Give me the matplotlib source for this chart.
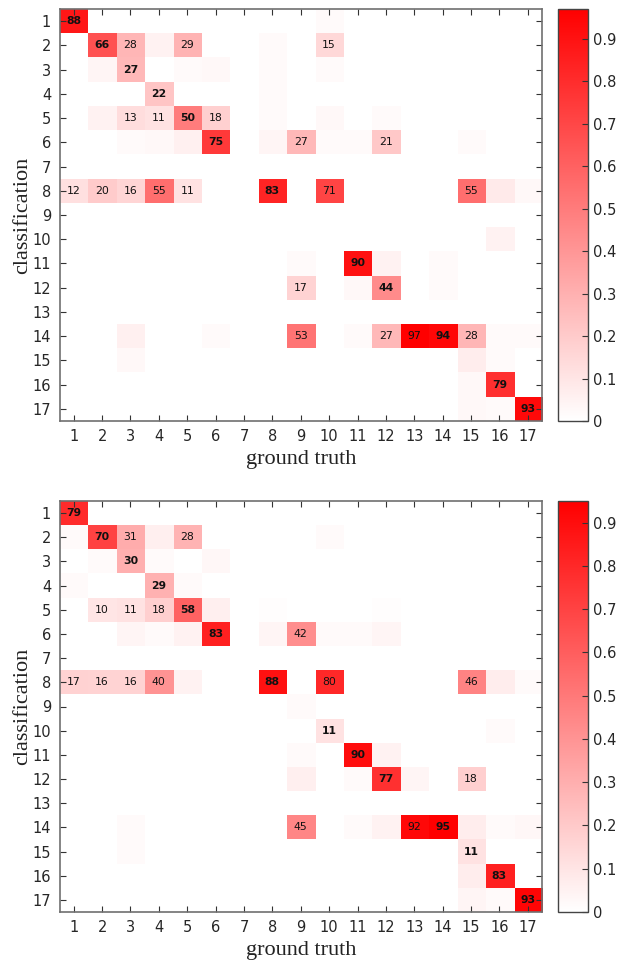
import numpy as np
import matplotlib
matplotlib.use("Agg")
import matplotlib.pyplot as plt
from matplotlib.colors import LinearSegmentedColormap

labels = [str(i) for i in range(1, 18)]
xlabel_text = "ground truth"
ylabel_text = "classification"

# values in percent; rows = classification, columns = ground truth
top_matrix = [
    [88, 0, 0, 0, 0, 0, 0, 0, 0, 2, 0, 0, 0, 0, 0, 0, 0],
    [0, 66, 28, 5, 29, 0, 0, 2, 0, 15, 0, 0, 0, 0, 0, 0, 0],
    [0, 4, 27, 0, 2, 3, 0, 2, 0, 2, 0, 0, 0, 0, 0, 0, 0],
    [0, 0, 0, 22, 0, 0, 0, 2, 0, 0, 0, 0, 0, 0, 0, 0, 0],
    [0, 5, 13, 11, 50, 18, 0, 2, 0, 3, 0, 2, 0, 0, 0, 0, 0],
    [0, 0, 2, 3, 6, 75, 0, 4, 27, 2, 2, 21, 0, 0, 2, 0, 0],
    [0, 0, 0, 0, 0, 0, 0, 0, 0, 0, 0, 0, 0, 0, 0, 0, 0],
    [12, 20, 16, 55, 11, 0, 0, 83, 0, 71, 0, 0, 0, 0, 55, 8, 3],
    [0, 0, 0, 0, 0, 0, 0, 0, 0, 0, 0, 0, 0, 0, 0, 0, 0],
    [0, 0, 0, 0, 0, 0, 0, 0, 0, 0, 0, 0, 0, 0, 0, 5, 0],
    [0, 0, 0, 0, 0, 0, 0, 0, 2, 0, 90, 5, 0, 2, 0, 0, 0],
    [0, 0, 0, 0, 0, 0, 0, 0, 17, 0, 3, 44, 0, 2, 0, 0, 0],
    [0, 0, 0, 0, 0, 0, 0, 0, 0, 0, 0, 0, 0, 0, 0, 0, 0],
    [0, 0, 6, 0, 0, 2, 0, 0, 53, 0, 2, 27, 97, 94, 28, 2, 2],
    [0, 0, 3, 0, 0, 0, 0, 0, 0, 0, 0, 0, 0, 0, 7, 2, 0],
    [0, 0, 0, 0, 0, 0, 0, 0, 0, 0, 0, 0, 0, 0, 3, 79, 0],
    [0, 0, 0, 0, 0, 0, 0, 0, 0, 0, 0, 0, 0, 0, 3, 2, 93],
]

bottom_matrix = [
    [79, 0, 0, 0, 0, 0, 0, 0, 0, 0, 0, 0, 0, 0, 0, 0, 0],
    [2, 70, 31, 6, 28, 0, 0, 0, 0, 2, 0, 0, 0, 0, 0, 0, 0],
    [0, 2, 30, 2, 0, 3, 0, 0, 0, 0, 0, 0, 0, 0, 0, 0, 0],
    [2, 0, 0, 29, 2, 0, 0, 0, 0, 0, 0, 0, 0, 0, 0, 0, 0],
    [0, 10, 11, 18, 58, 6, 0, 1, 0, 0, 0, 1, 0, 0, 0, 0, 0],
    [0, 0, 4, 2, 5, 83, 0, 4, 42, 2, 2, 4, 0, 0, 0, 0, 0],
    [0, 0, 0, 0, 0, 0, 0, 0, 0, 0, 0, 0, 0, 0, 0, 0, 0],
    [17, 16, 16, 40, 5, 0, 0, 88, 0, 80, 0, 0, 0, 0, 46, 7, 2],
    [0, 0, 0, 0, 0, 0, 0, 0, 2, 0, 0, 0, 0, 0, 0, 0, 0],
    [0, 0, 0, 0, 0, 0, 0, 0, 0, 11, 0, 0, 0, 0, 0, 2, 0],
    [0, 0, 0, 0, 0, 0, 0, 0, 2, 0, 90, 5, 0, 0, 0, 0, 0],
    [0, 0, 0, 0, 0, 0, 0, 0, 6, 0, 2, 77, 4, 0, 18, 0, 0],
    [0, 0, 0, 0, 0, 0, 0, 0, 0, 0, 0, 0, 0, 0, 0, 0, 0],
    [0, 0, 2, 0, 0, 0, 0, 0, 45, 0, 2, 5, 92, 95, 7, 2, 3],
    [0, 0, 2, 0, 0, 0, 0, 0, 0, 0, 0, 0, 0, 0, 11, 0, 0],
    [0, 0, 0, 0, 0, 0, 0, 0, 0, 0, 0, 0, 0, 0, 7, 83, 0],
    [0, 0, 0, 0, 0, 0, 0, 0, 0, 0, 0, 0, 0, 0, 4, 2, 93],
]

label_threshold = 10
cbar_ticks = [0, 0.1, 0.2, 0.3, 0.4, 0.5, 0.6, 0.7, 0.8, 0.9]

cmap = LinearSegmentedColormap.from_list("wr", [(1, 1, 1), (1, 0, 0)])

W, H = 619, 961
fig = plt.figure(figsize=(W / 100, H / 100), dpi=100)

tick_color = "#262626"
spine_color = "#707070"
serif = ["Liberation Serif", "DejaVu Serif"]


def draw(matrix, top_px, bottom_px):
    M = np.array(matrix, dtype=float) / 100.0
    n = M.shape[0]
    left_px, right_px = 59.5, 542
    ax = fig.add_axes([left_px / W, 1 - bottom_px / H,
                       (right_px - left_px) / W, (bottom_px - top_px) / H])
    im = ax.imshow(M, cmap=cmap, vmin=0, vmax=M.max(), aspect="auto",
                   extent=(0.5, n + 0.5, n + 0.5, 0.5), interpolation="nearest")
    for i in range(n):
        for j in range(n):
            v = matrix[i][j]
            if v >= label_threshold:
                ax.text(j + 1, i + 1, str(v), ha="center", va="center",
                        fontsize=7.8, color="#111111",
                        fontweight="bold" if i == j else "normal",
                        family="DejaVu Sans")
    ax.set_xlim(0.5, n + 0.5)
    ax.set_ylim(n + 0.5, 0.5)
    ax.set_xticks(range(1, n + 1))
    ax.set_yticks(range(1, n + 1))
    ax.set_xticklabels(labels)
    ax.set_yticklabels(labels)
    ax.tick_params(direction="in", top=True, right=True, length=4,
                   width=0.8, color="#333333", labelsize=10.5,
                   labelcolor=tick_color, pad=6)
    for s in ax.spines.values():
        s.set_color(spine_color)
        s.set_linewidth(1.2)
    ax.set_xlabel(xlabel_text, family=serif, fontsize=16, labelpad=4,
                  color="#222222")
    ax.set_ylabel(ylabel_text, family=serif, fontsize=16, labelpad=0,
                  color="#222222")

    cax = fig.add_axes([558 / W, 1 - bottom_px / H, 30 / W,
                        (bottom_px - top_px) / H])
    cb = fig.colorbar(im, cax=cax, ticks=cbar_ticks)
    cb.ax.set_yticklabels([("%g" % t) for t in cbar_ticks])
    cb.ax.tick_params(direction="in", length=4, width=0.8, color="#333333",
                      labelsize=10.5, labelcolor=tick_color)
    cb.outline.set_edgecolor("#444444")
    cb.outline.set_linewidth(1.0)


draw(top_matrix, 9, 421)
draw(bottom_matrix, 501, 912)

fig.savefig("out.png", dpi=100)
